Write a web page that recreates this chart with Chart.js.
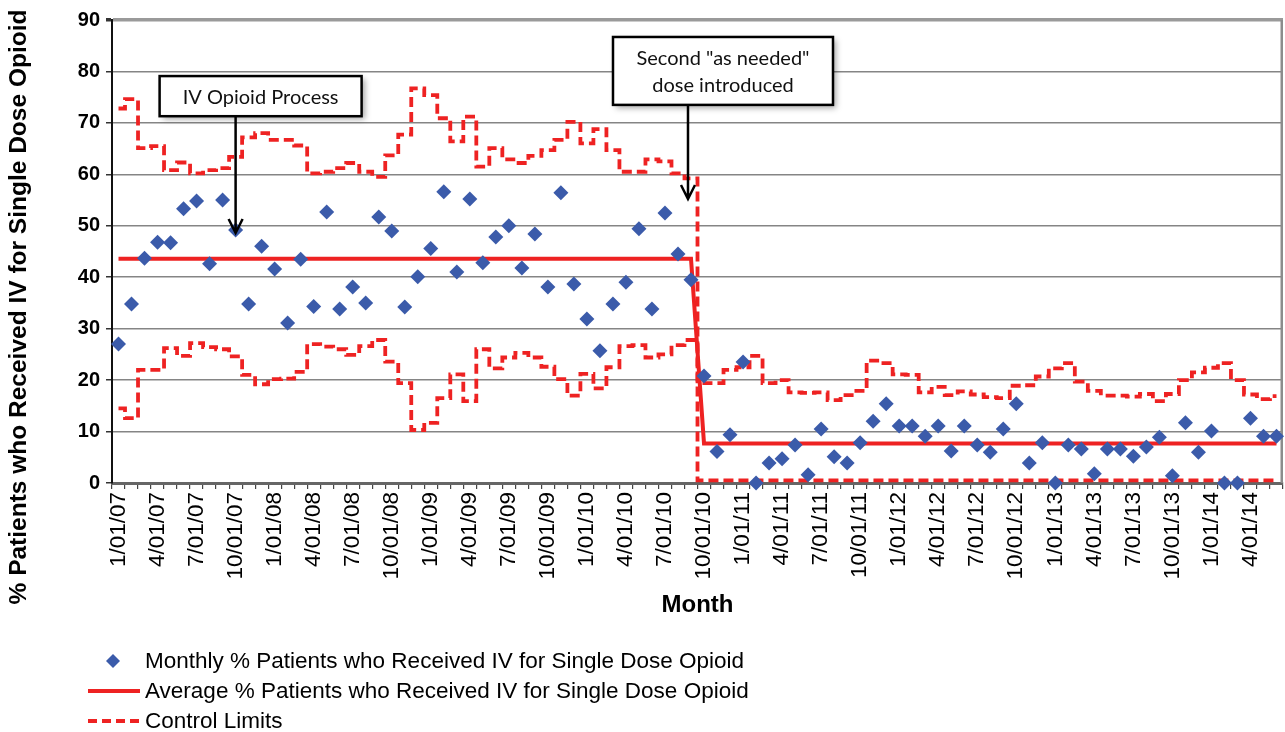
<!DOCTYPE html>
<html>
<head>
<meta charset="utf-8">
<script src="https://cdn.jsdelivr.net/npm/chart.js@4.4.1/dist/chart.umd.min.js"></script>
<style>
  body { margin: 0; background: #fff; }
  #wrap { width: 1285px; height: 732px; }
</style>
</head>
<body>
<div id="wrap"><canvas id="spcChart" width="1285" height="732"></canvas></div>
<script>
// Months on the x axis (first of each month)
const months = [
  '1/01/07','2/01/07','3/01/07','4/01/07','5/01/07','6/01/07','7/01/07','8/01/07','9/01/07','10/01/07','11/01/07','12/01/07',
  '1/01/08','2/01/08','3/01/08','4/01/08','5/01/08','6/01/08','7/01/08','8/01/08','9/01/08','10/01/08','11/01/08','12/01/08',
  '1/01/09','2/01/09','3/01/09','4/01/09','5/01/09','6/01/09','7/01/09','8/01/09','9/01/09','10/01/09','11/01/09','12/01/09',
  '1/01/10','2/01/10','3/01/10','4/01/10','5/01/10','6/01/10','7/01/10','8/01/10','9/01/10','10/01/10','11/01/10','12/01/10',
  '1/01/11','2/01/11','3/01/11','4/01/11','5/01/11','6/01/11','7/01/11','8/01/11','9/01/11','10/01/11','11/01/11','12/01/11',
  '1/01/12','2/01/12','3/01/12','4/01/12','5/01/12','6/01/12','7/01/12','8/01/12','9/01/12','10/01/12','11/01/12','12/01/12',
  '1/01/13','2/01/13','3/01/13','4/01/13','5/01/13','6/01/13','7/01/13','8/01/13','9/01/13','10/01/13','11/01/13','12/01/13',
  '1/01/14','2/01/14','3/01/14','4/01/14','5/01/14','6/01/14'
];

// Monthly % patients who received IV for single dose opioid
const monthlyPct = [
  27.0, 34.8, 43.7, 46.8, 46.7, 53.3, 54.8, 42.6, 55.0, 49.2,
  34.8, 46.0, 41.6, 31.1, 43.5, 34.3, 52.7, 33.8, 38.1, 35.0,
  51.7, 49.0, 34.2, 40.1, 45.6, 56.6, 41.0, 55.2, 42.8, 47.8,
  50.0, 41.8, 48.4, 38.1, 56.4, 38.7, 31.9, 25.7, 34.8, 39.0,
  49.4, 33.8, 52.5, 44.5, 39.5, 20.8, 6.1, 9.4, 23.5, 0,
  3.9, 4.7, 7.4, 1.6, 10.5, 5.1, 3.9, 7.8, 12.0, 15.4,
  11.1, 11.1, 9.1, 11.1, 6.2, 11.1, 7.4, 6.0, 10.5, 15.4,
  3.9, 7.8, 0, 7.4, 6.6, 1.8, 6.6, 6.6, 5.2, 7.0,
  8.9, 1.4, 11.7, 6.0, 10.1, 0, 0, 12.6, 9.1, 9.1
];

// Average (centre line), before and after the change
const averagePct = [
  43.6, 43.6, 43.6, 43.6, 43.6, 43.6, 43.6, 43.6, 43.6, 43.6,
  43.6, 43.6, 43.6, 43.6, 43.6, 43.6, 43.6, 43.6, 43.6, 43.6,
  43.6, 43.6, 43.6, 43.6, 43.6, 43.6, 43.6, 43.6, 43.6, 43.6,
  43.6, 43.6, 43.6, 43.6, 43.6, 43.6, 43.6, 43.6, 43.6, 43.6,
  43.6, 43.6, 43.6, 43.6, 43.6, 7.7, 7.7, 7.7, 7.7, 7.7,
  7.7, 7.7, 7.7, 7.7, 7.7, 7.7, 7.7, 7.7, 7.7, 7.7,
  7.7, 7.7, 7.7, 7.7, 7.7, 7.7, 7.7, 7.7, 7.7, 7.7,
  7.7, 7.7, 7.7, 7.7, 7.7, 7.7, 7.7, 7.7, 7.7, 7.7,
  7.7, 7.7, 7.7, 7.7, 7.7, 7.7, 7.7, 7.7, 7.7, 7.7
];

// Control limits, phase 1 = 1/07..9/10, phase 2 = 10/10..6/14
const upperLimitPhase1 = [
  72.8, 74.6, 65.1, 65.5, 60.8, 62.3, 60.2, 60.8, 61.2, 63.4,
  67.2, 68.0, 66.7, 66.7, 65.6, 60.2, 60.5, 61.2, 62.2, 60.5,
  59.5, 63.7, 67.7, 76.7, 75.4, 70.9, 66.4, 71.2, 61.5, 65.1,
  62.9, 62.2, 63.6, 64.7, 66.7, 70.2, 66.0, 68.8, 64.7, 60.5,
  60.5, 62.9, 62.5, 60.2, 59.2
];
const lowerLimitPhase1 = [
  14.5, 12.6, 22.0, 22.0, 26.2, 24.7, 27.2, 26.4, 26.0, 24.6,
  21.0, 19.2, 20.2, 20.3, 21.6, 27.0, 26.5, 26.0, 24.9, 26.6,
  27.8, 23.6, 19.4, 10.3, 11.7, 16.5, 21.1, 15.9, 26.0, 22.3,
  24.4, 25.3, 24.4, 22.6, 20.2, 17.0, 21.2, 18.4, 22.5, 26.6,
  26.8, 24.4, 25.0, 26.8, 27.8
];
const upperLimitPhase2 = [
  19.4, 19.4, 22.0, 22.5, 24.7, 19.4, 20.0, 17.6, 17.5, 17.6,
  16.1, 17.1, 17.9, 23.8, 23.3, 21.1, 21.0, 17.6, 18.7, 17.1,
  17.8, 17.2, 16.7, 16.5, 18.9, 19.0, 20.7, 22.3, 23.3, 19.7,
  17.9, 17.0, 17.0, 16.8, 17.3, 15.9, 17.3, 20.0, 21.5, 22.4,
  23.3, 20.0, 17.2, 16.3, 16.9
];
const lowerLimitPhase2 = [
  0.5, 0.5, 0.5, 0.5, 0.5, 0.5, 0.5, 0.5, 0.5, 0.5,
  0.5, 0.5, 0.5, 0.5, 0.5, 0.5, 0.5, 0.5, 0.5, 0.5,
  0.5, 0.5, 0.5, 0.5, 0.5, 0.5, 0.5, 0.5, 0.5, 0.5,
  0.5, 0.5, 0.5, 0.5, 0.5, 0.5, 0.5, 0.5, 0.5, 0.5,
  0.5, 0.5, 0.5, 0.5, 0.5
];

const seriesLabels = [
  'Monthly % Patients who Received IV for Single Dose Opioid',
  'Average % Patients who Received IV for Single Dose Opioid',
  'Control Limits'
];
const yAxisTitle = '% Patients who Received IV for Single Dose Opioid';
const xAxisTitle = 'Month';

// Callout boxes with arrows pointing at a month
const callouts = [
  { lines: ['IV Opioid Process'], index: 9, dx: 0, tipValue: 48.6, boxLeft: -76, boxWidth: 202, boxTop: 79.1, boxBottom: 71.3 },
  { lines: ['Second "as needed"', 'dose introduced'], index: 44, dx: -3, tipValue: 55.2, boxLeft: -75, boxWidth: 220, boxTop: 86.7, boxBottom: 73.5 }
];

const FONT = "Arial, 'Liberation Sans', sans-serif";
const BLUE = '#3B5BAA';
const RED = '#EE2222';

// Lines/annotations that Chart.js has no direct option for
const extrasPlugin = {
  id: 'extras',
  beforeDatasetsDraw(chart) {
    const { ctx, chartArea: a } = chart;
    ctx.save();
    ctx.strokeStyle = '#8c8c8c';
    ctx.lineWidth = 2.5;
    ctx.beginPath();
    ctx.moveTo(a.right - 1.25, a.top);
    ctx.lineTo(a.right - 1.25, a.bottom);
    ctx.stroke();
    ctx.restore();
  },
  afterDraw(chart) {
    const { ctx } = chart;
    const xs = chart.scales.x, ys = chart.scales.y;

    // callouts
    callouts.forEach(c => {
      const ax = xs.getPixelForValue(c.index) + c.dx;
      const tipY = ys.getPixelForValue(c.tipValue);
      const top = ys.getPixelForValue(c.boxTop);
      const bottom = ys.getPixelForValue(c.boxBottom);
      const left = ax + c.boxLeft;

      ctx.save();
      ctx.strokeStyle = '#000';
      ctx.lineWidth = 2.5;
      ctx.beginPath();
      ctx.moveTo(ax, bottom);
      ctx.lineTo(ax, tipY);
      ctx.moveTo(ax - 7, tipY - 14);
      ctx.lineTo(ax, tipY);
      ctx.lineTo(ax + 7, tipY - 14);
      ctx.stroke();

      ctx.shadowColor = 'rgba(0,0,0,0.35)';
      ctx.shadowBlur = 6;
      ctx.shadowOffsetX = 3;
      ctx.shadowOffsetY = 3;
      ctx.fillStyle = '#fff';
      ctx.fillRect(left, top, c.boxWidth, bottom - top);
      ctx.shadowColor = 'transparent';
      ctx.strokeRect(left, top, c.boxWidth, bottom - top);

      ctx.fillStyle = '#111';
      ctx.font = "20px Lato, 'Open Sans', sans-serif";
      ctx.textAlign = 'center';
      ctx.textBaseline = 'middle';
      const cx = left + c.boxWidth / 2;
      const cy = (top + bottom) / 2 + 1;
      const lh = 27;
      c.lines.forEach((t, k) => {
        ctx.fillText(t, cx, cy + (k - (c.lines.length - 1) / 2) * lh);
      });
      ctx.restore();
    });

    // y axis title, centred on the full height
    ctx.save();
    ctx.translate(19, 307);
    ctx.rotate(-Math.PI / 2);
    ctx.font = 'bold 24.5px ' + FONT;
    ctx.fillStyle = '#000';
    ctx.textAlign = 'center';
    ctx.textBaseline = 'middle';
    ctx.fillText(yAxisTitle, 0, 0);
    ctx.restore();

    // legend
    ctx.save();
    ctx.font = '22.5px ' + FONT;
    ctx.textBaseline = 'middle';
    ctx.textAlign = 'left';
    const rows = [661, 691, 721];
    // diamond
    ctx.fillStyle = BLUE;
    ctx.beginPath();
    ctx.moveTo(113, rows[0] - 7);
    ctx.lineTo(120, rows[0]);
    ctx.lineTo(113, rows[0] + 7);
    ctx.lineTo(106, rows[0]);
    ctx.closePath();
    ctx.fill();
    // solid line
    ctx.strokeStyle = RED;
    ctx.lineWidth = 4;
    ctx.beginPath();
    ctx.moveTo(88, rows[1]);
    ctx.lineTo(140, rows[1]);
    ctx.stroke();
    // dashed line
    ctx.setLineDash([9, 5]);
    ctx.beginPath();
    ctx.moveTo(88, rows[2]);
    ctx.lineTo(142, rows[2]);
    ctx.stroke();
    ctx.setLineDash([]);
    ctx.fillStyle = '#000';
    seriesLabels.forEach((t, k) => ctx.fillText(t, 145, rows[k] + 1));
    ctx.restore();
  }
};

const ctx = document.getElementById('spcChart').getContext('2d');
new Chart(ctx, {
  type: 'line',
  data: {
    labels: months,
    datasets: [
      {
        label: seriesLabels[0],
        data: monthlyPct,
        showLine: false,
        pointStyle: 'rectRot',
        pointRadius: 7.5,
        pointBackgroundColor: BLUE,
        pointBorderColor: BLUE,
        pointBorderWidth: 0,
        clip: false,
        order: 0
      },
      {
        label: seriesLabels[1],
        data: averagePct,
        borderColor: RED,
        borderWidth: 4,
        pointRadius: 0,
        order: 2
      },
      {
        label: seriesLabels[2],
        data: upperLimitPhase1.concat(lowerLimitPhase2),
        borderColor: RED,
        borderWidth: 3.8,
        borderDash: [10, 5],
        stepped: 'middle',
        pointRadius: 0,
        order: 1
      },
      {
        label: seriesLabels[2],
        data: lowerLimitPhase1.concat(upperLimitPhase2),
        borderColor: RED,
        borderWidth: 3.8,
        borderDash: [10, 5],
        stepped: 'middle',
        pointRadius: 0,
        order: 1
      }
    ]
  },
  options: {
    responsive: false,
    animation: false,
    devicePixelRatio: 1,
    layout: { autoPadding: false, padding: { top: 20, right: 2, bottom: 112, left: 0 } },
    plugins: {
      legend: { display: false },
      tooltip: { enabled: false }
    },
    scales: {
      x: {
        type: 'category',
        offset: true,
        afterFit: s => { s.height = 137; s.paddingLeft = 0; s.paddingRight = 0; },
        grid: { drawOnChartArea: false, drawTicks: true, tickLength: 6, offset: true, color: '#444', lineWidth: 1.2 },
        border: { color: '#666', width: 3 },
        ticks: {
          autoSkip: false,
          maxRotation: 90,
          minRotation: 90,
          padding: 3,
          color: '#000',
          font: { family: FONT, size: 22.5 },
          callback: function (val, idx) { return idx % 3 === 0 ? this.getLabelForValue(val) : ''; }
        },
        title: {
          display: true,
          text: xAxisTitle,
          color: '#000',
          font: { family: FONT, size: 24, weight: 'bold' },
          padding: { top: 0, bottom: 0 }
        }
      },
      y: {
        min: 0,
        max: 90,
        afterFit: s => { s.width = 112; },
        grid: {
          color: ctx => ctx.tick && ctx.tick.value === 90 ? '#9a9a9a' : '#858585',
          lineWidth: ctx => ctx.tick && ctx.tick.value === 90 ? 3.5 : 1.5,
          drawTicks: true,
          tickLength: 6,
          tickColor: '#333'
        },
        border: { color: '#111', width: 2 },
        ticks: {
          stepSize: 10,
          padding: 6,
          color: '#000',
          font: { family: FONT, size: 20, weight: 'bold' }
        }
      }
    }
  },
  plugins: [extrasPlugin]
});
</script>
</body>
</html>
